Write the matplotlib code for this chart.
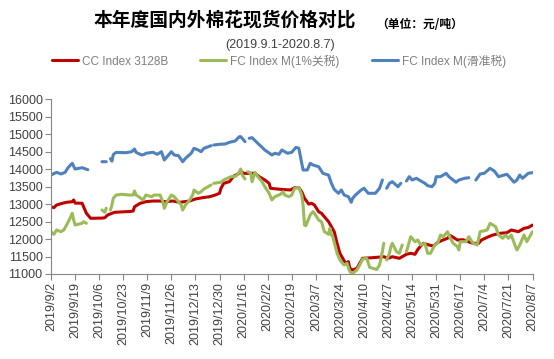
import numpy as np
import pandas as pd
import matplotlib
matplotlib.use("Agg")
import matplotlib.pyplot as plt

nan = np.nan

# CC Index 3128B
cc_dates = ['2019-09-02', '2019-09-04', '2019-09-06', '2019-09-10', '2019-09-13', '2019-09-17',
            '2019-09-18', '2019-09-19', '2019-09-24', '2019-09-25', '2019-09-27', '2019-09-30',
            '2019-10-08', '2019-10-10', '2019-10-12', '2019-10-15', '2019-10-17', '2019-10-28',
            '2019-10-30', '2019-10-31', '2019-11-04', '2019-11-08', '2019-11-13', '2019-11-18',
            '2019-11-22', '2019-11-27', '2019-12-02', '2019-12-05', '2019-12-09', '2019-12-13',
            '2019-12-18', '2019-12-23', '2019-12-27', '2019-12-30', '2019-12-31', '2020-01-02',
            '2020-01-06', '2020-01-09', '2020-01-13', '2020-01-14', '2020-01-16', '2020-01-24',
            '2020-01-27', '2020-01-31', '2020-02-03', '2020-02-04', '2020-02-11', '2020-02-18',
            '2020-02-21', '2020-02-24', '2020-02-26', '2020-02-28', '2020-03-02', '2020-03-04',
            '2020-03-06', '2020-03-09', '2020-03-11', '2020-03-13', '2020-03-16', '2020-03-18',
            '2020-03-20', '2020-03-22', '2020-03-24', '2020-03-26', '2020-03-28', '2020-03-30',
            '2020-03-31', '2020-04-02', '2020-04-05', '2020-04-07', '2020-04-09', '2020-04-16',
            '2020-04-24', '2020-04-27', '2020-04-30', '2020-05-05', '2020-05-07', '2020-05-10',
            '2020-05-13', '2020-05-16', '2020-05-18', '2020-05-20', '2020-05-22', '2020-05-26',
            '2020-05-29', '2020-06-01', '2020-06-04', '2020-06-08', '2020-06-10', '2020-06-12',
            '2020-06-15', '2020-06-19', '2020-06-23', '2020-06-26', '2020-06-30', '2020-07-02',
            '2020-07-06', '2020-07-10', '2020-07-15', '2020-07-20', '2020-07-23', '2020-07-28',
            '2020-08-01', '2020-08-04', '2020-08-07']
cc_values = [12926, 12898, 12975, 13024, 13052, 13069,
             13118, 13030, 13024, 12926, 12737, 12594,
             12600, 12611, 12689, 12737, 12766, 12790,
             12803, 12926, 13024, 13070, 13089, 13089,
             13069, 13089, 13052, 13069, 13089, 13147,
             13184, 13212, 13261, 13310, 13453, 13596,
             13642, 13800, 13882, 13950, 13880, 13882,
             13785, 13690, 13596, 13453, 13424, 13404,
             13470, 13470, 13356, 13167, 13000, 13024,
             12975, 12783, 12737, 12640, 12497, 12354,
             12211, 11880, 11593, 11449, 11306, 11352,
             11163, 11115, 11163, 11306, 11449, 11467,
             11495, 11449, 11495, 11449, 11495, 11564,
             11593, 11564, 11700, 11800, 11880, 11830,
             11800, 11900, 11960, 12022, 12100, 12050,
             11973, 11980, 11920, 11879, 11879, 11973,
             12050, 12116, 12165, 12183, 12259, 12211,
             12308, 12330, 12400]

# FC Index M (1% tariff)
fc1_dates = ['2019-09-02', '2019-09-04', '2019-09-06', '2019-09-09', '2019-09-11', '2019-09-13',
             '2019-09-16', '2019-09-17', '2019-09-18', '2019-09-19', '2019-09-21', '2019-09-24',
             '2019-09-25', '2019-09-27', '2019-10-01', '2019-10-08', '2019-10-10', '2019-10-11',
             '2019-10-12', '2019-10-14', '2019-10-15', '2019-10-16', '2019-10-18', '2019-10-22',
             '2019-10-27', '2019-10-30', '2019-10-31', '2019-11-01', '2019-11-03', '2019-11-06',
             '2019-11-08', '2019-11-12', '2019-11-14', '2019-11-18', '2019-11-20', '2019-11-21',
             '2019-11-23', '2019-11-26', '2019-11-28', '2019-12-01', '2019-12-03', '2019-12-04',
             '2019-12-06', '2019-12-09', '2019-12-11', '2019-12-12', '2019-12-15', '2019-12-17',
             '2019-12-19', '2019-12-24', '2019-12-25', '2019-12-26', '2019-12-31', '2020-01-02',
             '2020-01-07', '2020-01-10', '2020-01-12', '2020-01-14', '2020-01-15', '2020-01-17',
             '2020-01-18', '2020-01-19', '2020-01-21', '2020-01-22', '2020-01-24', '2020-01-26',
             '2020-01-29', '2020-01-31', '2020-02-03', '2020-02-05', '2020-02-07', '2020-02-11',
             '2020-02-13', '2020-02-14', '2020-02-17', '2020-02-19', '2020-02-21', '2020-02-24',
             '2020-02-26', '2020-02-27', '2020-02-28', '2020-02-29', '2020-03-03', '2020-03-05',
             '2020-03-06', '2020-03-09', '2020-03-11', '2020-03-13', '2020-03-16', '2020-03-17',
             '2020-03-18', '2020-03-19', '2020-03-22', '2020-03-24', '2020-03-26', '2020-03-27',
             '2020-03-29', '2020-03-31', '2020-04-02', '2020-04-05', '2020-04-07', '2020-04-09',
             '2020-04-12', '2020-04-14', '2020-04-19', '2020-04-21', '2020-04-22', '2020-04-23',
             '2020-04-24', '2020-04-25', '2020-04-26', '2020-04-28', '2020-04-29', '2020-04-30',
             '2020-05-03', '2020-05-05', '2020-05-07', '2020-05-08', '2020-05-10', '2020-05-13',
             '2020-05-16', '2020-05-18', '2020-05-20', '2020-05-23', '2020-05-25', '2020-05-27',
             '2020-05-30', '2020-06-01', '2020-06-03', '2020-06-05', '2020-06-08', '2020-06-10',
             '2020-06-12', '2020-06-15', '2020-06-16', '2020-06-17', '2020-06-21', '2020-06-23',
             '2020-06-26', '2020-06-29', '2020-07-01', '2020-07-06', '2020-07-08', '2020-07-12',
             '2020-07-14', '2020-07-17', '2020-07-19', '2020-07-21', '2020-07-23', '2020-07-26',
             '2020-07-27', '2020-07-29', '2020-08-01', '2020-08-03', '2020-08-07']
fc1_values = [12211, 12136, 12260, 12211, 12260, 12402,
              12640, 12737, 12546, 12402, 12422, 12451,
              12497, 12451, nan, 12832, 12766, 12880,
              nan, 12832, 12975, 13167, 13261, 13281,
              13261, 13261, 13376, 13261, 13212, 13118,
              13261, 13212, 13261, 13261, 13069, 12880,
              13069, 13261, 13212, 13069, 12975, 12832,
              12975, 13118, 13261, 13404, 13310, 13356,
              13433, 13547, nan, 13596, 13625, 13690,
              13785, 13790, 13853, 14005, 13833, 13719,
              nan, 13928, 13882, 13642, 13911, 13785,
              13642, 13499, 13310, 13118, 13212, 13281,
              13356, 13261, 13212, 13261, 13453, 13480,
              13261, 12975, 12402, 12383, 12689, 12783,
              12737, 12546, 12497, 12211, 12136, 12308,
              12116, 12068, 11593, 11401, 11300, 11258,
              11306, 11066, 11020, 11115, 11258, 11429,
              11449, 11190, 11130, 11258, 11449, 11638,
              11879, nan, 11401, 11593, 11782, 11879,
              11638, 11593, 11830, nan, 11638, 12068,
              11925, 11973, 11830, 11879, 11593, 11593,
              11830, 11879, 12116, 12068, 12211, 12022,
              11879, 11782, 11687, 11925, 11925, 12068,
              11879, 11830, 12211, 12259, 12451, 12354,
              12116, 12022, 12116, 12022, 12116, 11782,
              11687, 11830, 12116, 11925, 12211]

# FC Index M (sliding-scale duty)
fcs_dates = ['2019-09-02', '2019-09-06', '2019-09-09', '2019-09-12', '2019-09-14', '2019-09-17',
             '2019-09-19', '2019-09-24', '2019-09-28', '2019-10-01', '2019-10-08', '2019-10-11',
             '2019-10-12', '2019-10-14', '2019-10-15', '2019-10-16', '2019-10-18', '2019-10-25',
             '2019-10-29', '2019-10-31', '2019-11-01', '2019-11-05', '2019-11-07', '2019-11-08',
             '2019-11-13', '2019-11-16', '2019-11-19', '2019-11-21', '2019-11-23', '2019-11-26',
             '2019-11-28', '2019-12-01', '2019-12-04', '2019-12-06', '2019-12-10', '2019-12-12',
             '2019-12-15', '2019-12-17', '2019-12-19', '2019-12-24', '2019-12-25', '2019-12-26',
             '2019-12-30', '2020-01-03', '2020-01-06', '2020-01-10', '2020-01-13', '2020-01-14',
             '2020-01-17', '2020-01-18', '2020-01-20', '2020-01-22', '2020-01-26', '2020-01-31',
             '2020-02-05', '2020-02-07', '2020-02-10', '2020-02-12', '2020-02-16', '2020-02-19',
             '2020-02-22', '2020-02-24', '2020-02-27', '2020-03-01', '2020-03-03', '2020-03-05',
             '2020-03-09', '2020-03-12', '2020-03-16', '2020-03-18', '2020-03-20', '2020-03-23',
             '2020-03-25', '2020-03-27', '2020-03-30', '2020-04-01', '2020-04-02', '2020-04-04',
             '2020-04-08', '2020-04-10', '2020-04-13', '2020-04-18', '2020-04-21', '2020-04-23',
             '2020-04-25', '2020-04-26', '2020-04-28', '2020-04-30', '2020-05-04', '2020-05-06',
             '2020-05-08', '2020-05-10', '2020-05-12', '2020-05-14', '2020-05-17', '2020-05-19',
             '2020-05-23', '2020-05-25', '2020-05-28', '2020-05-30', '2020-05-31', '2020-06-03',
             '2020-06-07', '2020-06-09', '2020-06-14', '2020-06-16', '2020-06-20', '2020-06-23',
             '2020-06-26', '2020-06-28', '2020-07-01', '2020-07-04', '2020-07-08', '2020-07-11',
             '2020-07-14', '2020-07-18', '2020-07-20', '2020-07-25', '2020-07-27', '2020-07-29',
             '2020-07-31', '2020-08-04', '2020-08-07']
fcs_values = [13833, 13911, 13862, 13911, 14042, 14168,
              14005, 14042, 13985, nan, 14214, 14214,
              nan, 14300, 14230, 14420, 14480, 14472,
              14500, 14578, 14483, 14406, 14426, 14455,
              14483, 14426, 14500, 14263, 14357, 14500,
              14406, 14386, 14214, 14311, 14455, 14598,
              14549, 14500, 14598, 14672, nan, 14692,
              14712, 14721, 14769, 14807, 14930, 14930,
              14787, nan, 14884, 14902, 14741, 14549,
              14406, 14455, 14426, 14549, 14455, 14483,
              14626, 14598, 13977, 13977, 14168, 14120,
              14071, 13882, 13830, 13596, 13420, 13310,
              13404, 13261, 13212, 13052, 13167, 13261,
              13404, 13453, 13310, 13310, 13453, 13690,
              nan, 13453, 13596, 13642, 13499, 13596,
              nan, 13662, 13785, 13690, 13739, 13690,
              13596, 13527, 13499, 13596, 13785, 13785,
              13882, 13785, 13625, 13690, 13739, 13756,
              nan, 13690, 13862, 13882, 14025, 13948,
              13785, 13833, 13853, 13625, 13690, 13833,
              13739, 13882, 13900]

series_names = ['CC Index 3128B', 'FC Index M(1%关税)', 'FC Index M(滑准税)']
series_colors = ['#C00000', '#9BBB59', '#4F81BD']

start, end = pd.Timestamp('2019-09-02'), pd.Timestamp('2020-08-07')
tick_dates = pd.date_range(start, end, freq='17D')
tick_labels = [f'{d.year}/{d.month}/{d.day}' for d in tick_dates]

fig = plt.figure(figsize=(5.54, 3.59), dpi=100)
ax = fig.add_axes([51 / 554, 1 - 274 / 359, 481.5 / 554, 174.7 / 359])

for dates, values, name, color in zip([cc_dates, fc1_dates, fcs_dates],
                                      [cc_values, fc1_values, fcs_values],
                                      series_names, series_colors):
    ax.plot(pd.to_datetime(dates), values, color=color, lw=2.2, label=name,
            solid_joinstyle='round', solid_capstyle='round')

ax.set_xlim(start, end)
ax.set_ylim(11000, 16000)
ax.set_yticks(np.arange(11000, 16001, 500))
ax.set_xticks(tick_dates)
ax.set_xticklabels(tick_labels, rotation=90)

for s in ['top', 'right']:
    ax.spines[s].set_visible(False)
for s in ['left', 'bottom']:
    ax.spines[s].set_color('#868686')
    ax.spines[s].set_linewidth(0.8)
ax.tick_params(direction='out', length=4, width=0.8, color='#868686',
               labelcolor='#404040', labelsize=9, pad=2)
for lab in ax.get_xticklabels() + ax.get_yticklabels():
    lab.set_family(['Liberation Sans', 'DejaVu Sans'])

cjk = ['Noto Sans CJK SC', 'DejaVu Sans']
fig.text(225 / 554, 1 - 20 / 359, '本年度国内外棉花现货价格对比', ha='center', va='center',
         fontsize=13.5, fontweight='bold', family=cjk, color='#000000')
fig.text(376 / 554, 1 - 24 / 359, '（单位：元/吨）', ha='left', va='center',
         fontsize=8.5, fontweight='bold', family=cjk, color='#000000')
fig.text(280 / 554, 1 - 45 / 359, '(2019.9.1-2020.8.7)', ha='center', va='center',
         fontsize=9, family=['Liberation Sans', 'DejaVu Sans'], color='#404040')

fig.legend(loc='center left', bbox_to_anchor=(52 / 554, 1 - 61 / 359), ncol=3,
           frameon=False, borderpad=0, borderaxespad=0, handlelength=2.2,
           handletextpad=0.35, columnspacing=2.7,
           prop={'family': ['Liberation Sans', 'Noto Sans CJK SC'], 'size': 8.5},
           labelcolor='#7F7F7F')

fig.savefig('out.png', dpi=100)
